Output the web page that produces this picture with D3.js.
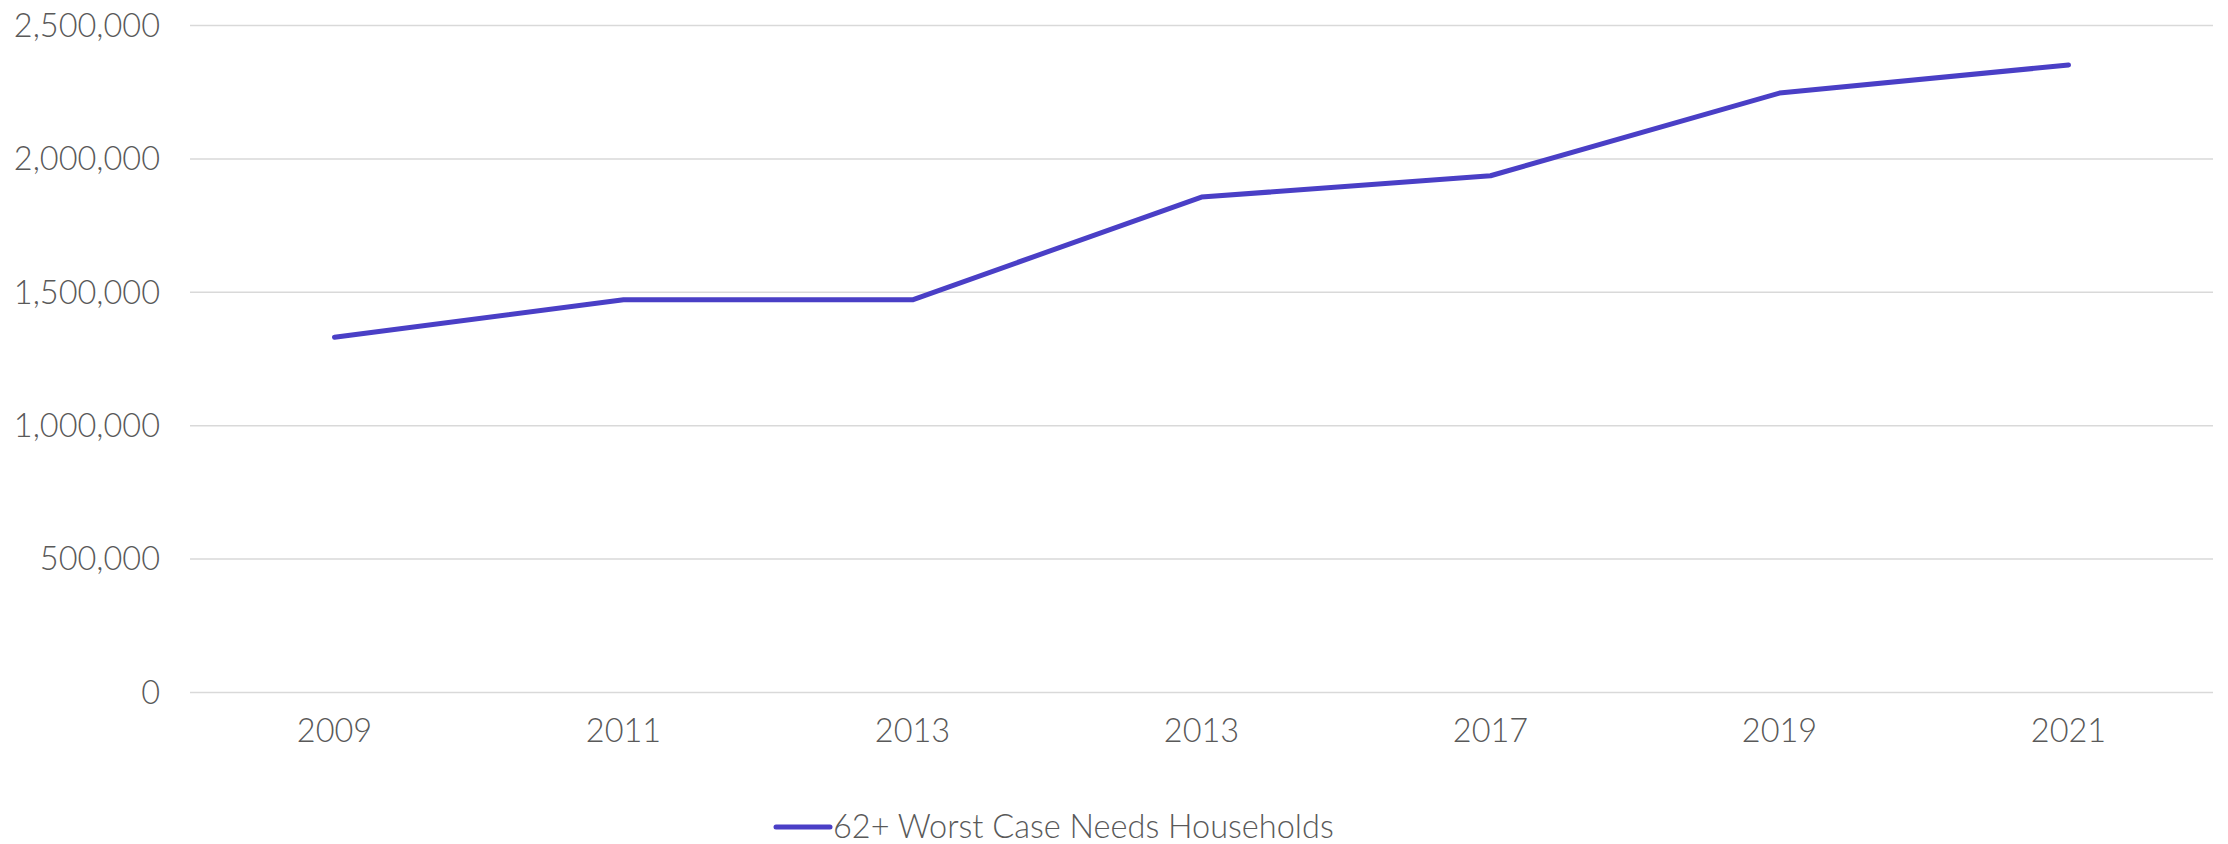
<!DOCTYPE html>
<html>
<head>
<meta charset="utf-8">
<script src="https://cdn.jsdelivr.net/npm/d3@7"></script>
<style>
	body { margin: 0; background: #fff; }
	text { font-family: Lato, "Open Sans", sans-serif; font-weight: 300; fill: #595959; }
</style>
</head>
<body>
<svg id="chart"></svg>
<script>
var years = ['2009', '2011', '2013', '2013', '2017', '2019', '2021'];
var households = [1330000, 1470000, 1470000, 1855000, 1935000, 2245000, 2350000];
var yTicks = [0, 500000, 1000000, 1500000, 2000000, 2500000];
var seriesName = '62+ Worst Case Needs Households';

var width = 2228,
	height = 844,
	margin = {
		left: 190,
		right: 15,
		top: 25,
		bottom: 152
	};

var lineColor = '#4a3fc6',
	gridColor = '#d9d9d9',
	fontSize = 32.5;

var svg = d3.select('#chart')
	.attr('width', width)
	.attr('height', height);

var x = d3.scaleBand()
	.domain(d3.range(years.length))
	.range([margin.left, width - margin.right])
	.padding(0);

var y = d3.scaleLinear()
	.domain([0, 2500000])
	.range([height - margin.bottom, margin.top]);

// gridlines + y labels
var yAxis = svg.append('g')
	.attr('transform', 'translate(' + margin.left + ',0)')
	.call(d3.axisLeft(y)
		.tickValues(yTicks)
		.tickSize(-(width - margin.left - margin.right))
		.tickPadding(30)
		.tickFormat(d3.format(',')));

yAxis.select('.domain').remove();
yAxis.selectAll('line')
	.attr('stroke', gridColor)
	.attr('stroke-width', 1.5);
yAxis.selectAll('text')
	.style('font-size', fontSize + 'px')
	.attr('fill', '#595959')
	.attr('dy', '0.35em');

// x labels
var xAxis = svg.append('g')
	.attr('transform', 'translate(0,' + (height - margin.bottom) + ')')
	.call(d3.axisBottom(x)
		.tickSize(0)
		.tickPadding(27)
		.tickFormat(function(i) { return years[i]; }));

xAxis.select('.domain').remove();
xAxis.selectAll('text')
	.style('font-size', fontSize + 'px')
	.attr('fill', '#595959');

// the series line
var line = d3.line()
	.x(function(d, i) { return x(i) + x.bandwidth() / 2; })
	.y(function(d) { return y(d); });

svg.append('path')
	.datum(households)
	.attr('d', line)
	.attr('fill', 'none')
	.attr('stroke', lineColor)
	.attr('stroke-width', 5)
	.attr('stroke-linecap', 'round')
	.attr('stroke-linejoin', 'round');

// legend
var legend = svg.append('g')
	.attr('transform', 'translate(776,827)');

legend.append('line')
	.attr('x1', 0)
	.attr('x2', 54)
	.attr('y1', 0)
	.attr('y2', 0)
	.attr('stroke', lineColor)
	.attr('stroke-width', 5)
	.attr('stroke-linecap', 'round');

legend.append('text')
	.attr('x', 57)
	.attr('y', 0)
	.attr('dy', '0.35em')
	.style('font-size', fontSize + 'px')
	.text(seriesName);
</script>
</body>
</html>
